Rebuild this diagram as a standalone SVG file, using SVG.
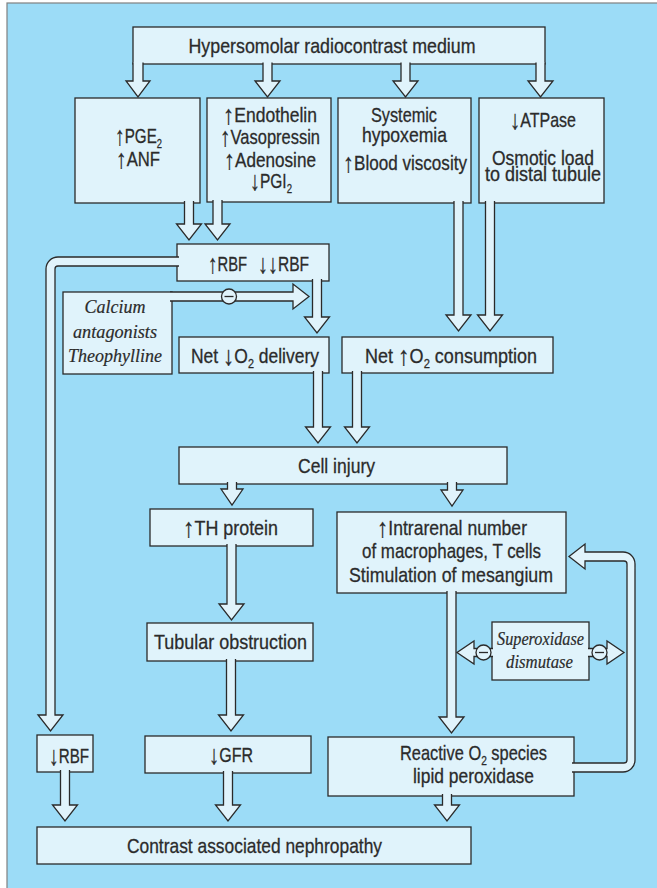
<svg xmlns="http://www.w3.org/2000/svg" width="657" height="888" viewBox="0 0 657 888">
<style>
.page{fill:#ffffff}
.bg{fill:#9cdcf7;stroke:#808080;stroke-width:1.2}
.box{fill:#e0f3fb;stroke:#2a2a2a;stroke-width:1.3}
.arr{fill:#e0f3fb;stroke:#2a2a2a;stroke-width:1.3;stroke-linejoin:miter}
.inh{fill:#e0f3fb;stroke:#2a2a2a;stroke-width:1.3}
.minus{stroke:#2a2a2a;stroke-width:1.3}
.t{font-family:"Liberation Sans",Arial,sans-serif;font-size:21px;fill:#2b2b2b;stroke:#2b2b2b;stroke-width:0.3;text-anchor:middle}
.s{text-anchor:start}
.i{font-family:"Liberation Serif","Times New Roman",serif;font-style:italic;font-size:19px;fill:#2b2b2b;stroke:#2b2b2b;stroke-width:0.2;text-anchor:middle}
.sub{font-size:13px}
.ar{font-size:27px}
</style>
<rect class="page" x="0" y="0" width="657" height="888"/>
<rect class="bg" x="7" y="3" width="660" height="900"/>

<g id="medium">
<rect class="box" x="133" y="27" width="412" height="37"/>
<text class="t" x="332" y="53" textLength="287" lengthAdjust="spacingAndGlyphs">Hypersomolar radiocontrast medium</text>
</g>
<g id="pge">
<rect class="box" x="75" y="98" width="125" height="105"/>
<text class="t" x="138.5" y="143" textLength="47" lengthAdjust="spacingAndGlyphs"><tspan class="ar" dy="2">↑</tspan><tspan dy="-2">PGE</tspan><tspan class="sub" dy="5">2</tspan></text>
<text class="t" x="138" y="166" textLength="44" lengthAdjust="spacingAndGlyphs"><tspan class="ar" dy="2">↑</tspan><tspan dy="-2">ANF</tspan></text>
</g>
<g id="endothelin">
<rect class="box" x="207" y="98" width="124" height="104"/>
<text class="t" x="270" y="122" textLength="94" lengthAdjust="spacingAndGlyphs"><tspan class="ar" dy="2">↑</tspan><tspan dy="-2">Endothelin</tspan></text>
<text class="t" x="270" y="144" textLength="100" lengthAdjust="spacingAndGlyphs"><tspan class="ar" dy="2">↑</tspan><tspan dy="-2">Vasopressin</tspan></text>
<text class="t" x="270" y="167" textLength="92" lengthAdjust="spacingAndGlyphs"><tspan class="ar" dy="2">↑</tspan><tspan dy="-2">Adenosine</tspan></text>
<text class="t" x="271" y="188" textLength="42" lengthAdjust="spacingAndGlyphs"><tspan class="ar" dy="2">↓</tspan><tspan dy="-2">PGI</tspan><tspan class="sub" dy="5">2</tspan></text>
</g>
<g id="hypoxemia">
<rect class="box" x="338" y="98" width="133" height="105"/>
<text class="t" x="404" y="122" textLength="66" lengthAdjust="spacingAndGlyphs">Systemic</text>
<text class="t" x="404.5" y="142" textLength="85" lengthAdjust="spacingAndGlyphs">hypoxemia</text>
<text class="t" x="405" y="170" textLength="124" lengthAdjust="spacingAndGlyphs"><tspan class="ar" dy="2">↑</tspan><tspan dy="-2">Blood viscosity</tspan></text>
</g>
<g id="atpase">
<rect class="box" x="479" y="98" width="125" height="105"/>
<text class="t" x="543" y="127" textLength="66" lengthAdjust="spacingAndGlyphs"><tspan class="ar" dy="2">↓</tspan><tspan dy="-2">ATPase</tspan></text>
<text class="t" x="543" y="165" textLength="102" lengthAdjust="spacingAndGlyphs">Osmotic load</text>
<text class="t" x="543" y="181" textLength="116" lengthAdjust="spacingAndGlyphs">to distal tubule</text>
</g>
<g id="rbf">
<rect class="box" x="177" y="244" width="152" height="37"/>
<text class="t s" x="208" y="271" textLength="39" lengthAdjust="spacingAndGlyphs"><tspan class="ar" dy="2">↑</tspan><tspan dy="-2">RBF</tspan></text>
<text class="t s" x="258" y="271" textLength="51" lengthAdjust="spacingAndGlyphs"><tspan class="ar" dy="2">↓↓</tspan><tspan dy="-2">RBF</tspan></text>
</g>
<g id="calcium">
<rect class="box" x="63" y="292" width="109" height="82"/>
<text class="i" x="115" y="313" textLength="61" lengthAdjust="spacingAndGlyphs">Calcium</text>
<text class="i" x="115" y="338" textLength="84" lengthAdjust="spacingAndGlyphs">antagonists</text>
<text class="i" x="115" y="362" textLength="94" lengthAdjust="spacingAndGlyphs">Theophylline</text>
</g>
<g id="delivery">
<rect class="box" x="179" y="337" width="150" height="36"/>
<text class="t" x="255" y="363" textLength="128" lengthAdjust="spacingAndGlyphs">Net <tspan class="ar" dy="2">↓</tspan><tspan dy="-2">O</tspan><tspan class="sub" dy="5">2</tspan><tspan dy="-5"> delivery</tspan></text>
</g>
<g id="consumption">
<rect class="box" x="342" y="337" width="211" height="36"/>
<text class="t" x="451" y="363" textLength="172" lengthAdjust="spacingAndGlyphs">Net <tspan class="ar" dy="2">↑</tspan><tspan dy="-2">O</tspan><tspan class="sub" dy="5">2</tspan><tspan dy="-5"> consumption</tspan></text>
</g>
<g id="cell">
<rect class="box" x="179" y="447" width="328" height="37"/>
<text class="t" x="336.5" y="473" textLength="77" lengthAdjust="spacingAndGlyphs">Cell injury</text>
</g>
<g id="th">
<rect class="box" x="150" y="509" width="163" height="37"/>
<text class="t" x="230.5" y="535" textLength="95" lengthAdjust="spacingAndGlyphs"><tspan class="ar" dy="2">↑</tspan><tspan dy="-2">TH protein</tspan></text>
</g>
<g id="tubular">
<rect class="box" x="147" y="623" width="166" height="38"/>
<text class="t" x="230.5" y="649" textLength="153" lengthAdjust="spacingAndGlyphs">Tubular obstruction</text>
</g>
<g id="intrarenal">
<rect class="box" x="337" y="512" width="229" height="81"/>
<text class="t" x="452" y="535" textLength="150" lengthAdjust="spacingAndGlyphs"><tspan class="ar" dy="2">↑</tspan><tspan dy="-2">Intrarenal number</tspan></text>
<text class="t" x="451.5" y="558" textLength="179" lengthAdjust="spacingAndGlyphs">of macrophages, T cells</text>
<text class="t" x="451" y="582" textLength="204" lengthAdjust="spacingAndGlyphs">Stimulation of mesangium</text>
</g>
<g id="superoxidase">
<rect class="box" x="492" y="622" width="97" height="58"/>
<text class="i" x="540.5" y="645" textLength="87" lengthAdjust="spacingAndGlyphs">Superoxidase</text>
<text class="i" x="539.5" y="668" textLength="67" lengthAdjust="spacingAndGlyphs">dismutase</text>
</g>
<g id="rbf-down">
<rect class="box" x="37" y="735" width="56" height="37"/>
<text class="t" x="69" y="763" textLength="40" lengthAdjust="spacingAndGlyphs"><tspan class="ar" dy="2">↓</tspan><tspan dy="-2">RBF</tspan></text>
</g>
<g id="gfr">
<rect class="box" x="145" y="736" width="166" height="37"/>
<text class="t" x="231" y="762" textLength="44" lengthAdjust="spacingAndGlyphs"><tspan class="ar" dy="2">↓</tspan><tspan dy="-2">GFR</tspan></text>
</g>
<g id="reactive">
<rect class="box" x="328" y="737" width="246" height="59"/>
<text class="t" x="473.5" y="760" textLength="147" lengthAdjust="spacingAndGlyphs">Reactive O<tspan class="sub" dy="5">2</tspan><tspan dy="-5"> species</tspan></text>
<text class="t" x="473.5" y="783" textLength="121" lengthAdjust="spacingAndGlyphs">lipid peroxidase</text>
</g>
<g id="nephropathy">
<rect class="box" x="37" y="827" width="434" height="37"/>
<text class="t" x="254.5" y="853" textLength="255" lengthAdjust="spacingAndGlyphs">Contrast associated nephropathy</text>
</g>

<g id="connectors">
<path class="arr" d="M133,62.5 V81 H126 L138,97 L150,81 H143 V62.5"/>
<path class="arr" d="M263,62.5 V81 H255 L267.5,97 L280,81 H272 V62.5"/>
<path class="arr" d="M401,62.5 V81 H393 L405.5,97 L418,81 H410 V62.5"/>
<path class="arr" d="M536,62.5 V81 H528 L540.5,97 L553,81 H545 V62.5"/>
<path class="arr" d="M184.5,201 V224 H176.5 L189,240 L201.5,224 H193.5 V201"/>
<path class="arr" d="M213,200 V224 H205 L217.5,240 L230,224 H222 V200"/>
<path class="arr" d="M454,201 V315 H446 L458.5,331 L471,315 H463 V201"/>
<path class="arr" d="M485.5,201 V315 H477.5 L490,331 L502.5,315 H494.5 V201"/>
<path class="arr" d="M312.5,279 V317 H304.5 L317,333 L329.5,317 H321.5 V279"/>
<path class="arr" d="M313.5,371 V427 H305.5 L318,443 L330.5,427 H322.5 V371"/>
<path class="arr" d="M352.5,371 V427 H344.5 L357,443 L369.5,427 H361.5 V371"/>
<path class="arr" d="M227.5,482 V489 H221 L232,505 L243,489 H236.5 V482"/>
<path class="arr" d="M447.5,482 V490 H441 L452,506 L463,490 H456.5 V482"/>
<path class="arr" d="M227,544 V604 H219 L231.5,620 L244,604 H236 V544"/>
<path class="arr" d="M226.5,659 V715 H218.5 L231,731 L243.5,715 H235.5 V659"/>
<path class="arr" d="M447,591 V717 H439 L451.5,733 L464,717 H456 V591"/>
<path class="arr" d="M60.5,770 V805 H52.5 L65,821 L77.5,805 H69.5 V770"/>
<path class="arr" d="M223.5,771 V805 H215.5 L228,821 L240.5,805 H232.5 V771"/>
<path class="arr" d="M442.5,794 V805 H434.5 L447,821 L459.5,805 H451.5 V794"/>
<path class="arr" d="M179,257 H58 A12,12 0 0 0 46,269 V715 H38 L50.5,731 L63,715 H55 V269 A3,3 0 0 1 58,266 H179"/>
<path class="arr" d="M572,763 H624 A3,3 0 0 0 627,760 V564 A3,3 0 0 0 624,561 H585 V569 L569,556.5 L585,544 V552 H623 A12,12 0 0 1 635,564 V760 A12,12 0 0 1 623,772 H572"/>
<path class="arr" d="M170,301 H293 V309 L309,296.5 L293,284 V292 H170"/>
<circle class="inh" cx="229" cy="296.5" r="7.5"/>
<line class="minus" x1="224.5" y1="296.5" x2="233.5" y2="296.5"/>
<path class="arr" d="M493,648.5 H474 V641 L457,652.5 L474,664 V656.5 H493"/>
<circle class="inh" cx="483.5" cy="652.5" r="7.5"/>
<line class="minus" x1="479" y1="652.5" x2="488" y2="652.5"/>
<path class="arr" d="M588,648.5 H607 V641 L624,652.5 L607,664 V656.5 H588"/>
<circle class="inh" cx="599.5" cy="652.5" r="7.5"/>
<line class="minus" x1="595" y1="652.5" x2="604" y2="652.5"/>
</g>
</svg>
